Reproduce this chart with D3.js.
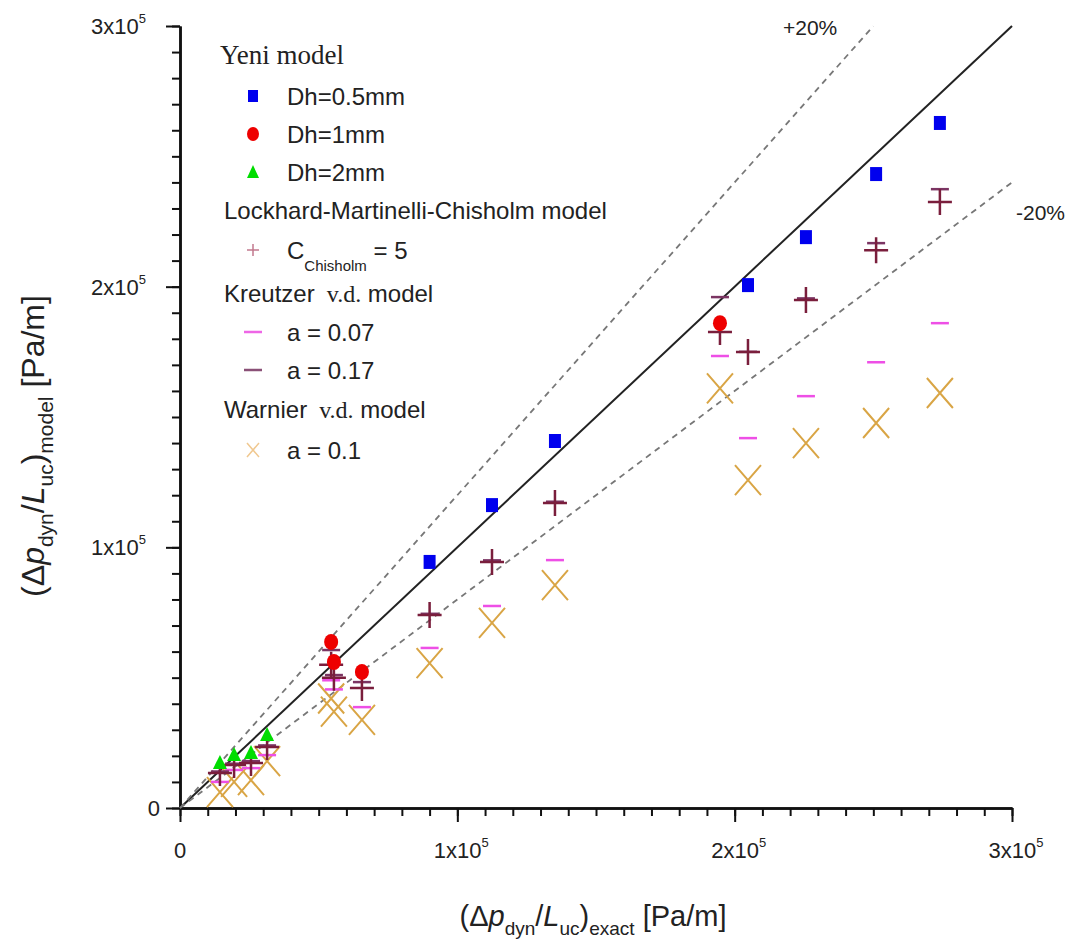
<!DOCTYPE html>
<html>
<head>
<meta charset="utf-8">
<script src="https://cdn.jsdelivr.net/npm/d3@7/dist/d3.min.js"></script>
<style>
  body { margin: 0; background: #fff; }
  text { font-family: "Liberation Sans", Arial, sans-serif; fill: #222; }
</style>
</head>
<body>
<div id="chart"></div>
<script>
// Configuration
const width = 1077;
const height = 951;

// Data (Pa/m) - exact values on x, model values on y
const exact = [1.44e4, 1.95e4, 2.56e4, 3.14e4, 5.45e4, 5.55e4, 6.56e4, 9.0e4,
    11.25e4, 13.52e4, 19.47e4, 20.48e4, 22.57e4, 25.1e4, 27.4e4];
const chisholm5 = [1.34e4, 1.65e4, 1.73e4, 2.34e4, 5.5e4, 5.0e4, 4.6e4, 7.4e4,
    9.44e4, 11.7e4, 18.26e4, 17.49e4, 19.49e4, 21.4e4, 23.25e4];
const kreutzer007 = [1.0e4, 1.46e4, 1.53e4, 2.03e4, 4.9e4, 4.55e4, 3.87e4, 6.14e4,
    7.75e4, 9.51e4, 17.34e4, 14.19e4, 15.8e4, 17.1e4, 18.6e4];
const kreutzer017 = [1.4e4, 1.7e4, 1.8e4, 2.4e4, 6.06e4, 5.1e4, 4.83e4, 7.45e4,
    9.5e4, 11.75e4, 19.6e4, 17.5e4, 19.55e4, 21.67e4, 23.74e4];
const warnier01 = [0.61e4, 1.0e4, 1.07e4, 1.8e4, 4.2e4, 3.7e4, 3.38e4, 5.56e4,
    7.1e4, 8.55e4, 16.1e4, 12.58e4, 14.0e4, 14.77e4, 15.92e4];

// Yeni model, per hydraulic diameter
const dh05X = [9.0e4, 11.25e4, 13.52e4, 20.48e4, 22.57e4, 25.1e4, 27.4e4];
const dh05Y = [9.44e4, 11.62e4, 14.08e4, 20.06e4, 21.9e4, 24.32e4, 26.28e4];
const dh1X = [5.45e4, 5.55e4, 6.56e4, 19.47e4];
const dh1Y = [6.37e4, 5.60e4, 5.22e4, 18.6e4];
const dh2X = [1.44e4, 1.95e4, 2.56e4, 3.14e4];
const dh2Y = [1.73e4, 2.03e4, 2.11e4, 2.80e4];

const majorTicks = [0, 1e5, 2e5, 3e5];
const bandFactors = [1.2, 0.8];

// Scales
const x = d3.scaleLinear().domain([0, 3e5]).range([180, 1012]);
const y = d3.scaleLinear().domain([0, 3e5]).range([808, 26]);

const svg = d3.select("#chart")
    .append("svg")
    .attr("width", width)
    .attr("height", height);

// helper for plain text
function textAt(px, py, anchor, size) {
    return svg.append("text")
        .attr("x", px).attr("y", py)
        .attr("text-anchor", anchor || "start")
        .style("font-size", (size || 24) + "px");
}

function tickLabel(t, v) {
    if (v === 0) { t.text("0"); return; }
    t.append("tspan").text(`${v / 1e5}x10`);
    t.append("tspan").attr("dy", -11).style("font-size", "13px").text("5");
}

// Axes - minor and major ticks
const minor = d3.range(0, 3e5 + 1, 1e4);
svg.append("g")
    .attr("transform", "translate(0,808)")
    .call(d3.axisBottom(x).tickValues(minor).tickSize(8).tickSizeOuter(0).tickFormat(""));
svg.append("g")
    .attr("transform", "translate(0,808)")
    .call(d3.axisBottom(x).tickValues(majorTicks).tickSize(14).tickSizeOuter(0).tickFormat(""));
svg.append("g")
    .attr("transform", "translate(180,0)")
    .call(d3.axisLeft(y).tickValues(minor).tickSize(8).tickSizeOuter(0).tickFormat(""));
svg.append("g")
    .attr("transform", "translate(180,0)")
    .call(d3.axisLeft(y).tickValues(majorTicks).tickSize(14).tickSizeOuter(0).tickFormat(""));
svg.selectAll(".domain").attr("stroke", "#111").attr("stroke-width", 2.5);
svg.selectAll(".tick line").attr("stroke", "#111").attr("stroke-width", 2);

majorTicks.forEach(v => {
    tickLabel(textAt(x(v) + (v ? 4 : 0), 858, "middle", 22), v);
    tickLabel(textAt(v ? 146 : 160, y(v) + 8, "end", 22), v);
});

// Reference lines
svg.append("line")
    .attr("x1", x(0)).attr("y1", y(0)).attr("x2", x(3e5)).attr("y2", y(3e5))
    .attr("stroke", "#222").attr("stroke-width", 2);
bandFactors.forEach(f => {
    const xEnd = Math.min(3e5, 3e5 / f);
    svg.append("line")
        .attr("x1", x(0)).attr("y1", y(0)).attr("x2", x(xEnd)).attr("y2", y(xEnd * f))
        .attr("stroke", "#777").attr("stroke-width", 1.8).attr("stroke-dasharray", "6,5");
});
textAt(783, 35, "start", 21).text("+20%");
textAt(1016, 220, "start", 21).text("-20%");

// Marker shapes
const shapes = {
    cross: "M-12,0H12M0,-13V13",
    dash: "M-9,0H9",
    xmark: "M-13,-15L13,15M-13,15L13,-15",
    square: "M-6,-7H6V7H-6Z",
    triangle: "M0,-8L7,6H-7Z"
};

function drawSeries(xs, ys, shape, style) {
    const g = svg.append("g");
    const pts = xs.map((v, i) => [v, ys[i]]);
    const m = g.selectAll("path")
        .data(pts)
        .enter().append("path")
        .attr("d", shape)
        .attr("transform", d => `translate(${x(d[0])},${y(d[1])})`);
    Object.entries(style).forEach(([k, v]) => m.attr(k, v));
    return m;
}

const styles = {
    warnier: { fill: "none", stroke: "#d9a545", "stroke-width": 2 },
    k007: { fill: "none", stroke: "#ee4fe6", "stroke-width": 2.5 },
    k017: { fill: "none", stroke: "#7b3563", "stroke-width": 2.5 },
    chis: { fill: "none", stroke: "#7a1e3c", "stroke-width": 2.5 },
    dh05: { fill: "#0000ee" },
    dh2: { fill: "#00dd00" }
};

drawSeries(exact, warnier01, shapes.xmark, styles.warnier);
drawSeries(exact, kreutzer007, shapes.dash, styles.k007);
drawSeries(exact, kreutzer017, shapes.dash, styles.k017);
drawSeries(exact, chisholm5, shapes.cross, styles.chis);
drawSeries(dh05X, dh05Y, shapes.square, styles.dh05);
svg.append("g").selectAll("ellipse")
    .data(dh1X.map((v, i) => [v, dh1Y[i]]))
    .enter().append("ellipse")
    .attr("cx", d => x(d[0])).attr("cy", d => y(d[1]))
    .attr("rx", 7).attr("ry", 8)
    .attr("fill", "#ee0000");
drawSeries(dh2X, dh2Y, shapes.triangle, styles.dh2);

// Legend
const legendRows = [
    { y: 55, kind: "head", serif: true, text: "Yeni model" },
    { y: 96, kind: "square", text: "Dh=0.5mm" },
    { y: 134, kind: "circle", text: "Dh=1mm" },
    { y: 172, kind: "triangle", text: "Dh=2mm" },
    { y: 210, kind: "head", text: "Lockhard-Martinelli-Chisholm model" },
    { y: 250, kind: "cross", text: "C" },
    { y: 293, kind: "head", text: "Kreutzer", vd: true },
    { y: 332, kind: "dash07", text: "a = 0.07" },
    { y: 370, kind: "dash17", text: "a = 0.17" },
    { y: 409, kind: "head", text: "Warnier", vd: true },
    { y: 450, kind: "xmark", text: "a = 0.1" }
];

legendRows.forEach(r => {
    if (r.kind === "head") {
        const t = textAt(r.serif ? 220 : 224, r.y + 9, "start", r.serif ? 27 : 24);
        if (r.serif) {
            t.style("font-family", "'Liberation Serif', serif").text(r.text);
        } else {
            t.append("tspan").text(r.text);
            if (r.vd) {
                t.append("tspan").style("font-family", "'Liberation Serif', serif")
                    .text("\u00a0\u00a0v.d.");
                t.append("tspan").text(" model");
            }
        }
        return;
    }
    const mx = 253, my = r.y;
    if (r.kind === "square") svg.append("path").attr("d", "M-5,-6H5V6H-5Z").attr("transform", `translate(${mx},${my})`).attr("fill", "#0000ee");
    if (r.kind === "circle") svg.append("ellipse").attr("cx", mx).attr("cy", my).attr("rx", 6).attr("ry", 7).attr("fill", "#ee0000");
    if (r.kind === "triangle") svg.append("path").attr("d", "M0,-7L6,6H-6Z").attr("transform", `translate(${mx},${my})`).attr("fill", "#00dd00");
    if (r.kind === "cross") svg.append("path").attr("d", "M-6,0H6M0,-6V6").attr("transform", `translate(${mx},${my})`).attr("stroke", "#c27a8e").attr("stroke-width", 1.5);
    if (r.kind === "dash07") svg.append("path").attr("d", "M-9,0H9").attr("transform", `translate(${mx},${my})`).attr("stroke", "#ee66e6").attr("stroke-width", 2.5);
    if (r.kind === "dash17") svg.append("path").attr("d", "M-9,0H9").attr("transform", `translate(${mx},${my})`).attr("stroke", "#8a5077").attr("stroke-width", 2.5);
    if (r.kind === "xmark") svg.append("path").attr("d", "M-6,-7L6,7M-6,7L6,-7").attr("transform", `translate(${mx},${my})`).attr("stroke", "#f0c890").attr("stroke-width", 1.5);

    const t = textAt(287, r.y + 9, "start", 24);
    if (r.kind === "cross") {
        t.append("tspan").text("C");
        t.append("tspan").attr("dy", 12).style("font-size", "15px").text("Chisholm");
        t.append("tspan").attr("dy", -12).text(" = 5");
    } else {
        t.text(r.text);
    }
});

// Axis titles
function titleParts(t, sub, subSize) {
    t.append("tspan").text("(\u0394");
    t.append("tspan").style("font-style", "italic").text("p");
    t.append("tspan").attr("dy", 9).style("font-size", subSize + "px").text("dyn");
    t.append("tspan").attr("dy", -9).text("/");
    t.append("tspan").style("font-style", "italic").text("L");
    t.append("tspan").attr("dy", 9).style("font-size", subSize + "px").text("uc");
    t.append("tspan").attr("dy", -9).text(")");
    t.append("tspan").attr("dy", 9).style("font-size", subSize + "px").text(sub);
    t.append("tspan").attr("dy", -9).text(" [Pa/m]");
}

titleParts(textAt(593, 926, "middle", 29), "exact", 19);

const yt = svg.append("text")
    .attr("transform", "translate(44,446) rotate(-90)")
    .attr("text-anchor", "middle")
    .style("font-size", "32px");
titleParts(yt, "model", 21);
</script>
</body>
</html>
